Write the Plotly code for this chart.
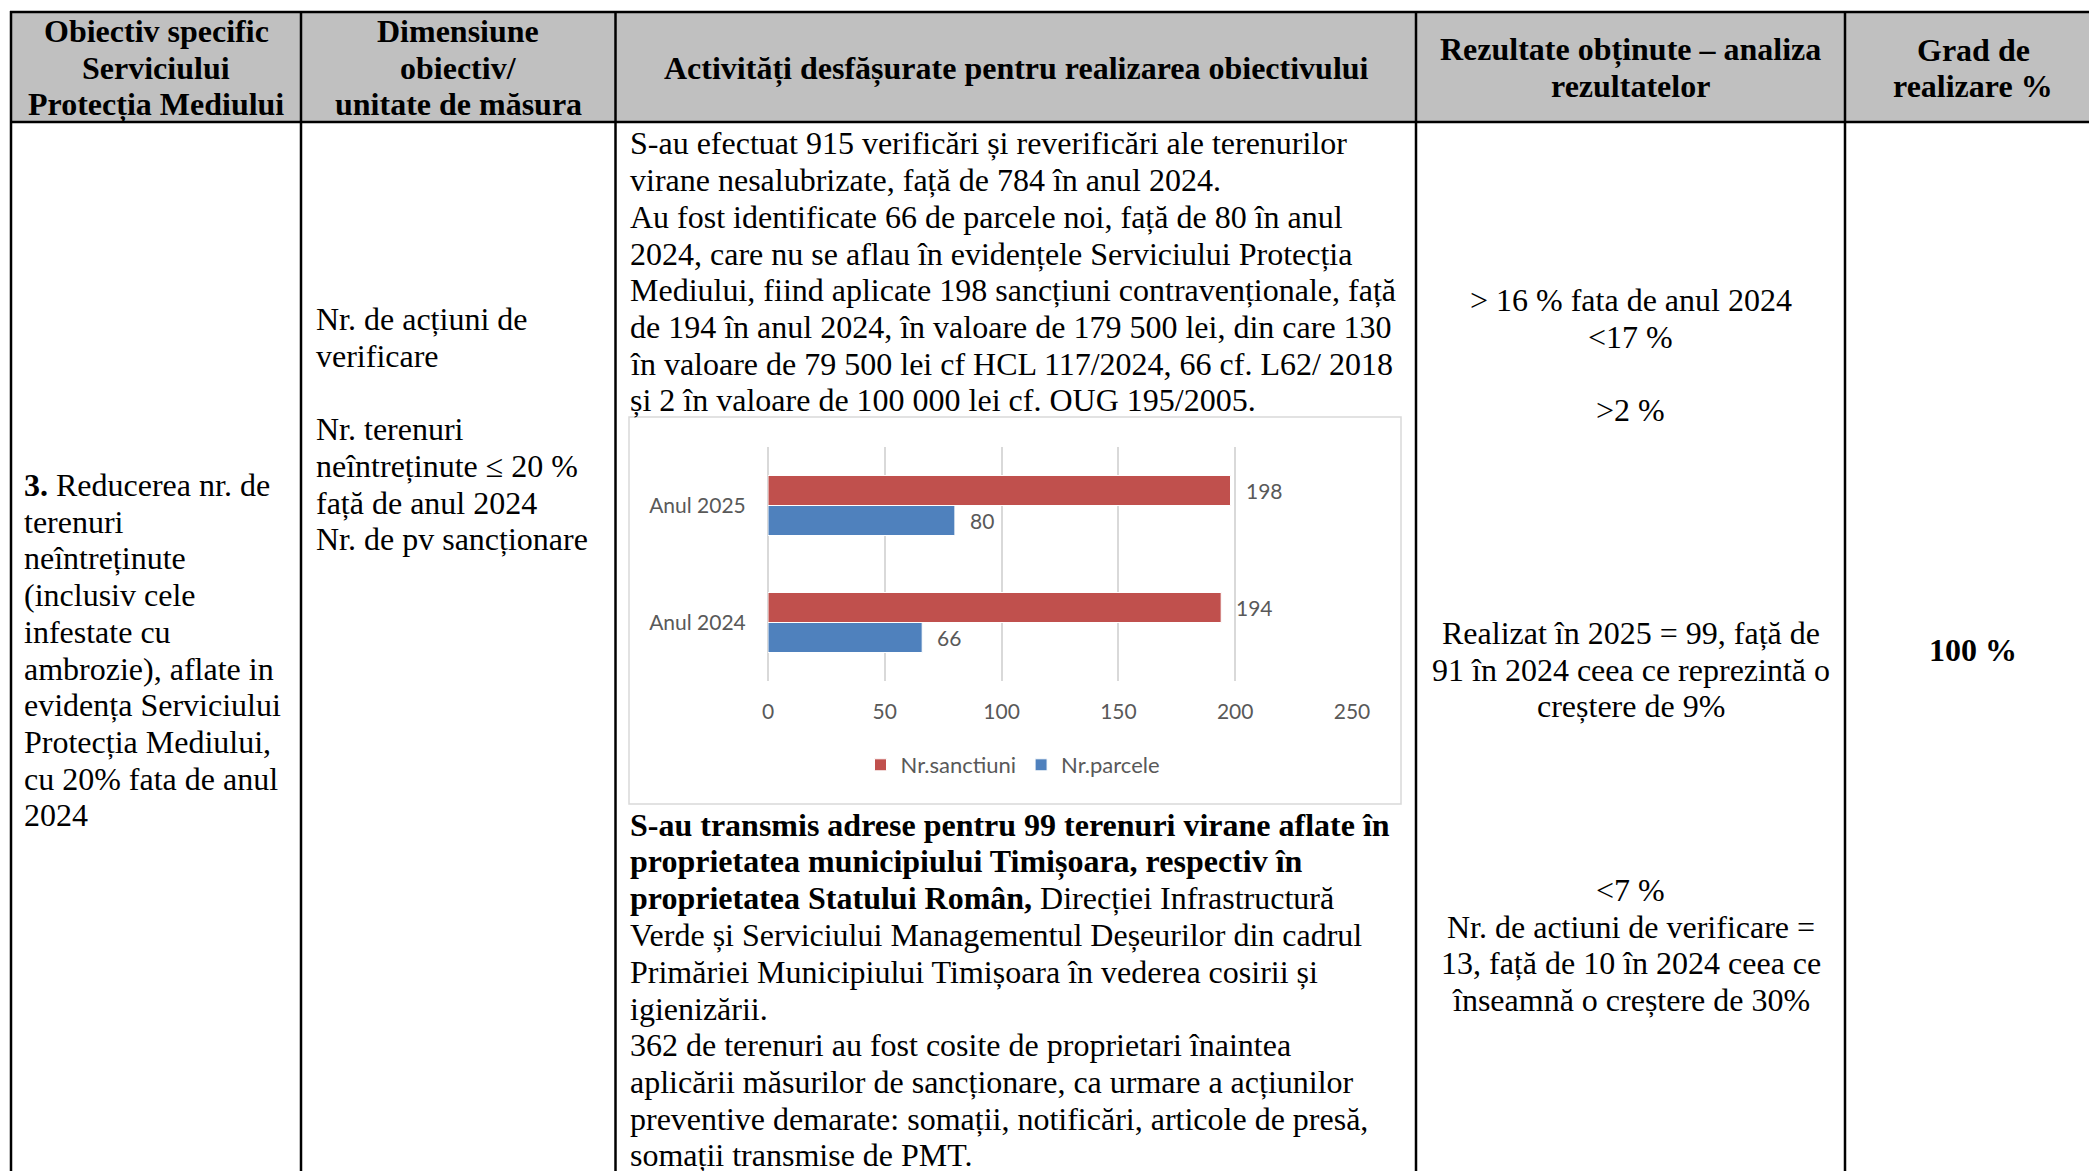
import plotly.graph_objects as go

W, H = 2089, 1171

# ---------------- data ----------------
categories = ["Anul 2024", "Anul 2025"]
nr_sanctiuni = [194, 198]
nr_parcele = [66, 80]
x_tick_values = [0, 50, 100, 150, 200, 250]
series_names = ["Nr.sanctiuni", "Nr.parcele"]

header_col1 = ["Obiectiv specific", "Serviciului", "Protecția Mediului"]
header_col2 = ["Dimensiune", "obiectiv/", "unitate de măsura"]
header_col3 = ["Activități desfășurate pentru realizarea obiectivului"]
header_col4 = ["Rezultate obținute – analiza", "rezultatelor"]
header_col5 = ["Grad de", "realizare %"]

col1_lines = ["<b>3.</b> Reducerea nr. de", "terenuri", "neîntreținute", "(inclusiv cele",
              "infestate cu", "ambrozie), aflate in", "evidența Serviciului",
              "Protecția Mediului,", "cu 20% fata de anul", "2024"]
col2_lines = ["Nr. de acțiuni de", "verificare", "", "Nr. terenuri",
              "neîntreținute ≤ 20 %", "față de anul 2024", "Nr. de pv sancționare"]
col3_top = ["S-au efectuat 915 verificări și reverificări ale terenurilor",
            "virane nesalubrizate, față de 784 în anul 2024.",
            "Au fost identificate 66 de parcele noi, față de 80 în anul",
            "2024, care nu se aflau în evidențele Serviciului Protecția",
            "Mediului, fiind aplicate 198 sancțiuni contravenționale, față",
            "de 194 în anul 2024, în valoare de 179 500 lei, din care 130",
            "în valoare de 79 500 lei cf HCL 117/2024, 66 cf. L62/ 2018",
            "și 2 în valoare de 100 000 lei cf. OUG 195/2005."]
col3_bottom = ["<b>S-au transmis adrese pentru 99 terenuri virane aflate în</b>",
               "<b>proprietatea municipiului Timișoara, respectiv în</b>",
               "<b>proprietatea Statului Român,</b> Direcției Infrastructură",
               "Verde și Serviciului Managementul Deșeurilor din cadrul",
               "Primăriei Municipiului Timișoara în vederea cosirii și",
               "igienizării.",
               "362 de terenuri au fost cosite de proprietari înaintea",
               "aplicării măsurilor de sancționare, ca urmare a acțiunilor",
               "preventive demarate: somații, notificări, articole de presă,",
               "somații transmise de PMT."]
col4_block1 = ["&gt; 16 % fata de anul 2024", "&lt;17 %", "", "&gt;2 %"]
col4_block2 = ["Realizat în 2025 = 99, față de", "91 în 2024 ceea ce reprezintă o",
               "creștere de 9%"]
col4_block3 = ["&lt;7 %", "Nr. de actiuni de verificare =", "13, față de 10 în 2024 ceea ce",
               "înseamnă o creștere de 30%"]
col5_text = "<b>100 %</b>"

# ---------------- helpers ----------------
SERIF = "Liberation Serif"
CHART_FONT = "Lato"
GREY_TXT = "#595959"
LS = 36.7  # line spacing


def px(x):
    return x / W


def py(y):
    return 1 - y / H


annotations = []
shapes = []


def add_lines(lines, x, y0, anchor="left", bold=False, size=32):
    for i, t in enumerate(lines):
        if not t:
            continue
        txt = f"<b>{t}</b>" if bold else t
        xx = x - 2 if anchor == "left" else x
        annotations.append(dict(
            text=txt, x=px(xx), y=py(y0 + i * LS), xref="paper", yref="paper",
            xanchor=anchor, yanchor="middle", showarrow=False,
            font=dict(family=SERIF, size=size, color="black")))


def hline(y, x0, x1, w=2.5, color="black"):
    shapes.append(dict(type="line", xref="paper", yref="paper", x0=px(x0), x1=px(x1),
                       y0=py(y), y1=py(y), line=dict(color=color, width=w)))


def vline(x, y0, y1, w=2.5, color="black"):
    shapes.append(dict(type="line", xref="paper", yref="paper", x0=px(x), x1=px(x),
                       y0=py(y0), y1=py(y1), line=dict(color=color, width=w)))


# header background
shapes.append(dict(type="rect", xref="paper", yref="paper", x0=px(11), x1=px(W + 5),
                   y0=py(122), y1=py(12), fillcolor="#C0C0C0", line=dict(width=0),
                   layer="below"))
# chart box
shapes.append(dict(type="rect", xref="paper", yref="paper", x0=px(629), x1=px(1401),
                   y0=py(804), y1=py(417), fillcolor="white",
                   line=dict(color="#D9D9D9", width=1.5), layer="below"))

hline(12, 10, W + 5)
hline(122, 10, W + 5)
for xv in [11, 301, 615.5, 1416, 1845]:
    vline(xv, 11, H + 5)

# header texts
add_lines(header_col1, 156, 31, "center", bold=True)
add_lines(header_col2, 458, 31, "center", bold=True)
add_lines(header_col3, 1016, 68, "center", bold=True)
add_lines(header_col4, 1630.5, 49.5, "center", bold=True)
add_lines(header_col5, 1973, 49.5, "center", bold=True)

# body texts
add_lines(col1_lines, 24, 485)
add_lines(col2_lines, 316, 319)
add_lines(col3_top, 630, 143.5)
add_lines(col3_bottom, 630, 825)
add_lines(col4_block1, 1630.5, 300, "center")
add_lines(col4_block2, 1630.5, 633, "center")
add_lines(col4_block3, 1630.5, 890, "center")
add_lines([col5_text], 1973, 650, "center")

# ---------------- chart ----------------
RED = "#C0504D"
BLUE = "#4F81BD"

fig = go.Figure()
fig.add_trace(go.Bar(y=categories, x=nr_parcele, orientation="h", name=series_names[1],
                     marker=dict(color=BLUE, line=dict(color="white", width=1))))
fig.add_trace(go.Bar(y=categories, x=nr_sanctiuni, orientation="h", name=series_names[0],
                     marker=dict(color=RED, line=dict(color="white", width=1))))

# data labels via annotations anchored on the data axes
for cat, v in zip(categories, nr_sanctiuni):
    annotations.append(dict(text=str(v), x=v, y=cat, xref="x", yref="y", xanchor="left",
                            yanchor="middle", xshift=13, yshift=15, showarrow=False,
                            font=dict(family=CHART_FONT, size=21, color=GREY_TXT)))
for cat, v in zip(categories, nr_parcele):
    annotations.append(dict(text=str(v), x=v, y=cat, xref="x", yref="y", xanchor="left",
                            yanchor="middle", xshift=13, yshift=-15, showarrow=False,
                            font=dict(family=CHART_FONT, size=21, color=GREY_TXT)))

fig.update_layout(
    width=W, height=H, autosize=False,
    margin=dict(l=0, r=0, t=0, b=0, pad=0, autoexpand=False),
    paper_bgcolor="white", plot_bgcolor="rgba(0,0,0,0)",
    barmode="group", bargap=0.487, bargroupgap=0,
    showlegend=True,
    legend=dict(orientation="h", traceorder="reversed", x=px(1013), y=py(765),
                xanchor="center", yanchor="middle", bgcolor="rgba(0,0,0,0)",
                font=dict(family=CHART_FONT, size=22, color=GREY_TXT),
                itemwidth=30, itemclick=False),
    xaxis=dict(domain=[px(768), px(1352)], range=[0, 250], tickvals=x_tick_values,
               showgrid=True, gridcolor="#D9D9D9", gridwidth=1.5,
               zeroline=True, zerolinecolor="#D9D9D9", zerolinewidth=1.5,
               showline=False, ticks="outside", ticklen=12, tickcolor="rgba(0,0,0,0)",
               tickfont=dict(family=CHART_FONT, size=21, color=GREY_TXT), fixedrange=True,
               automargin=False),
    yaxis=dict(domain=[py(681), py(447)], type="category", categoryorder="array",
               categoryarray=categories, showgrid=False, zeroline=False, showline=False,
               ticks="outside", ticklen=17, tickcolor="rgba(0,0,0,0)",
               tickfont=dict(family=CHART_FONT, size=21, color=GREY_TXT), fixedrange=True,
               automargin=False),
    shapes=shapes,
    annotations=annotations,
)

fig.write_html("out.html", config={"displayModeBar": False},
               post_script="document.body.style.margin='0';document.body.style.overflow='hidden';")
